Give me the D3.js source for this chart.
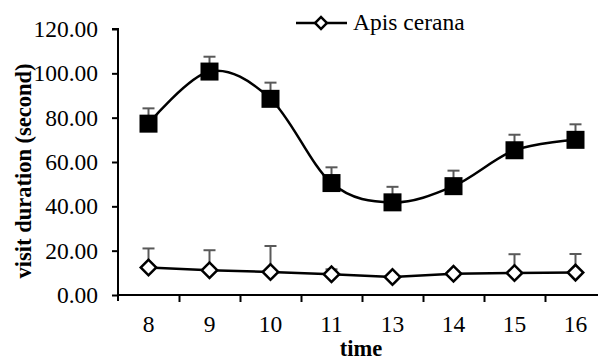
<!DOCTYPE html>
<html><head><meta charset="utf-8">
<script src="https://cdn.jsdelivr.net/npm/d3@7"></script>
<style>body{margin:0;background:#fff}svg{display:block}</style>
</head><body>
<svg id="c" width="598" height="358"></svg>
<script>
const categories = ["8","9","10","11","13","14","15","16"];
const seriesA = [77.3, 100.8, 88.5, 50.5, 41.8, 49.1, 65.3, 70.0];
const seriesAErr = [6.9, 6.7, 7.3, 7.1, 7.0, 7.0, 7.0, 7.0];
const ceranaValues = [12.4, 11.2, 10.4, 9.4, 8.1, 9.6, 9.9, 10.1];
const ceranaErr = [8.6, 9.0, 11.7, 2.2, 0.8, 1.2, 8.5, 8.4];
const yTicks = [0,20,40,60,80,100,120];
const legendLabel = "Apis cerana";

const svg = d3.select("#c");
const font = "'Liberation Serif','Times New Roman',serif";
const x0 = 118, step = 61;
const x = d3.scaleBand().domain(categories).range([x0, x0 + step*categories.length]).padding(0);
const xb = d3.scaleLinear().domain([0, categories.length]).range([x0, x0 + step*categories.length]);
const y = d3.scaleLinear().domain([0,120]).range([295, 29]);
const cx = c => x(c) + x.bandwidth()/2;

// axes
const ya = svg.append("g").attr("transform", `translate(${x0},0)`)
  .call(d3.axisLeft(y).tickValues(yTicks).tickSize(6).tickPadding(14).tickFormat(d3.format(".2f")));
ya.selectAll("text").attr("font-family", font).attr("font-size", 23.5).attr("fill","#000");
ya.selectAll("line,path").attr("stroke","#000").attr("stroke-width",2);
ya.select(".domain").attr("d", `M-6,${y(120)}H0V${y(0)+6}`);

const xa = svg.append("g").attr("transform", `translate(0,${y(0)})`)
  .call(d3.axisBottom(xb).tickValues(d3.range(1, categories.length)).tickSize(7).tickFormat(""));
xa.selectAll("line,path").attr("stroke","#000").attr("stroke-width",2);
xa.select(".domain").attr("d", `M${x0},0H598`);

svg.append("g").selectAll("text").data(categories).join("text")
  .attr("x", d => cx(d)).attr("y", 332).attr("text-anchor","middle")
  .attr("font-family", font).attr("font-size", 23.5).text(d => d);

// titles
svg.append("text").attr("x", 361).attr("y", 356).attr("text-anchor","middle")
  .attr("font-family", font).attr("font-size", 22.5).attr("font-weight","bold").text("time");
svg.append("text").attr("transform","translate(31,171) rotate(-90)").attr("text-anchor","middle")
  .attr("font-family", font).attr("font-size", 22.5).attr("font-weight","bold").text("visit duration (second)");

// error bars
function errBars(vals, errs) {
  const g = svg.append("g").attr("stroke","#595959").attr("stroke-width",2);
  categories.forEach((c,i) => {
    g.append("line").attr("x1",cx(c)).attr("x2",cx(c)).attr("y1",y(vals[i])).attr("y2",y(vals[i]+errs[i]));
    g.append("line").attr("x1",cx(c)-6).attr("x2",cx(c)+6).attr("y1",y(vals[i]+errs[i])).attr("y2",y(vals[i]+errs[i]));
  });
}
errBars(seriesA, seriesAErr);
errBars(ceranaValues, ceranaErr);

// lines
svg.append("path").datum(seriesA)
  .attr("d", d3.line().x((d,i)=>cx(categories[i])).y(d=>y(d)).curve(d3.curveCardinal.tension(0)))
  .attr("fill","none").attr("stroke","#000").attr("stroke-width",2.5);
svg.append("path").datum(ceranaValues)
  .attr("d", d3.line().x((d,i)=>cx(categories[i])).y(d=>y(d)))
  .attr("fill","none").attr("stroke","#000").attr("stroke-width",2.5);

// markers
svg.append("g").selectAll("rect").data(seriesA).join("rect")
  .attr("x",(d,i)=>cx(categories[i])-9).attr("y",d=>y(d)-9).attr("width",18).attr("height",18)
  .attr("fill","#000");
const diamond = d3.symbol().type(d3.symbolSquare).size(120);
svg.append("g").selectAll("path").data(ceranaValues).join("path")
  .attr("d", diamond)
  .attr("transform",(d,i)=>`translate(${cx(categories[i])},${y(d)}) rotate(45)`)
  .attr("fill","#fff").attr("stroke","#000").attr("stroke-width",2.5);

// legend
const lg = svg.append("g").attr("transform","translate(0,23)");
lg.append("line").attr("x1",296).attr("x2",347).attr("y1",0).attr("y2",0).attr("stroke","#000").attr("stroke-width",2.5);
lg.append("path").attr("d", d3.symbol().type(d3.symbolSquare).size(70)).attr("transform","translate(321,0) rotate(45)")
  .attr("fill","#fff").attr("stroke","#000").attr("stroke-width",2.5);
lg.append("text").attr("x",353).attr("y",7).attr("font-family",font).attr("font-size",23.5).text(legendLabel);
</script>
</body></html>
